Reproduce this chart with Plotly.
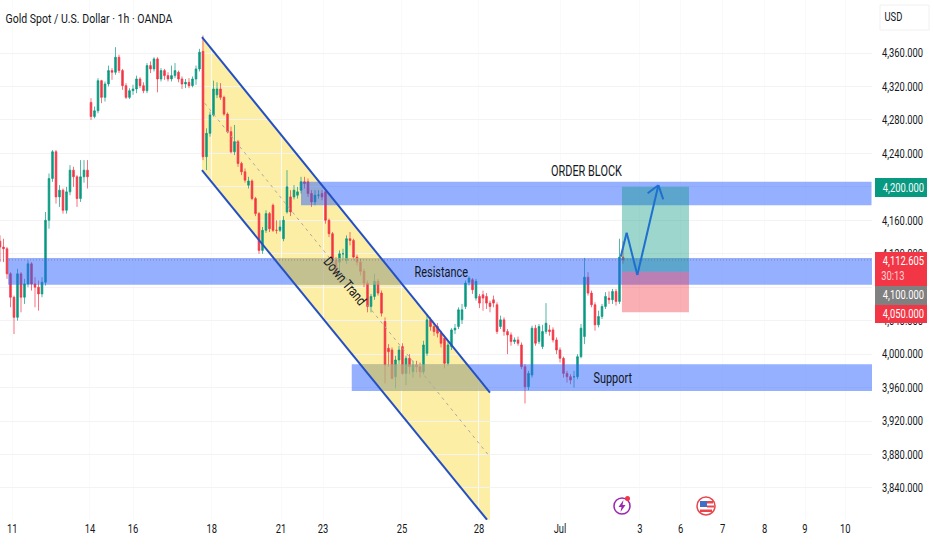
import plotly.graph_objects as go

# hourly gold candles (one candle every 2 bars)
opens = [4135,4128,4126,4096,4068,4044,4096,4068,4084,4108,4084,4080,4072,4086,4160,4210,4242,4188,4196,4172,4194,4220,4212,4186,4212,4220,
         4301,4284,4291,4327,4307,4323,4339,4337,4355,4339,4321,4307,4315,4317,4329,4321,4315,4345,4341,4353,4329,4339,4333,4329,4333,4337,4329,4323,4325,4321,4329,4341,4362,
         4236,4264,4286,4310,4317,4307,4287,4266,4242,4254,4228,4218,4202,4207,4186,4168,4124,4148,4168,4178,4148,4148,4138,
         4170,4188,4188,4190,4196,4206,4206,4192,4182,4190,4192,4194,4160,4144,4112,4110,4120,4112,4138,4136,4116,4110,4099,4085,4057,4069,4087,4073,
         4039,4007,4005,3973,3993,4009,3977,3995,3979,3987,3985,3979,4001,4041,4033,4033,4025,4019,3989,4009,4029,4033,4041,4057,4086,4089,4067,4069,4071,4069,4061,4065,4059,4033,4041,4027,
         4023,4015,4017,4011,3985,3961,3975,4031,4015,4009,4027,4029,4029,4017,4005,3995,3977,3973,3973,3973,3997,4021,4092,4073,4059,4035,4045,4057,4067,4065,4075,4063,4116]
closes = [4128,4126,4096,4068,4044,4096,4068,4084,4108,4084,4080,4072,4086,4160,4210,4242,4188,4196,4172,4194,4220,4212,4186,4212,4220,4212,
          4284,4291,4327,4307,4323,4339,4337,4355,4339,4321,4307,4315,4317,4329,4321,4315,4345,4341,4353,4329,4339,4333,4329,4333,4339,4329,4323,4325,4321,4329,4341,4361,4236,
          4264,4286,4317,4317,4307,4287,4266,4242,4254,4228,4218,4208,4207,4186,4168,4124,4148,4168,4150,4148,4148,4152,4160,
          4200,4170,4196,4194,4206,4204,4192,4182,4190,4190,4188,4160,4144,4112,4099,4120,4120,4138,4136,4116,4110,4099,4085,4057,4069,4087,4073,4049,
          3987,4003,3971,3993,4005,3977,3995,3985,3987,3985,3979,4011,4041,4033,4027,4025,4013,3989,4011,4029,4031,4053,4053,4085,4091,4077,4087,4061,4067,4061,4057,4061,4027,4041,4027,4023,
          4015,4017,4013,3985,3961,3977,4031,4013,4033,4027,4037,4027,4017,4005,3995,3977,3973,3969,3973,3997,4031,4092,4073,4059,4035,4045,4057,4069,4065,4075,4063,4116,4112.605]
highs = [4142,4138,4128,4098,4070,4102,4098,4090,4112,4110,4092,4088,4092,4170,4216,4244,4244,4202,4198,4200,4226,4224,4214,4232,4232,4232,
         4306,4296,4330,4328,4326,4345,4342,4367,4358,4341,4324,4318,4322,4333,4331,4325,4348,4350,4355,4355,4342,4341,4337,4345,4348,4339,4332,4329,4330,4332,4345,4365,4381,
         4270,4290,4327,4325,4324,4309,4289,4272,4274,4256,4230,4222,4212,4209,4188,4170,4152,4172,4170,4180,4160,4160,4165,
         4220,4196,4202,4200,4212,4212,4210,4196,4196,4196,4196,4198,4162,4146,4116,4124,4126,4142,4146,4138,4119,4114,4102,4088,4072,4096,4090,4076,
         4044,4012,4008,3998,4010,4013,3998,4000,3992,3992,3990,4016,4048,4044,4036,4037,4028,4022,4015,4031,4036,4056,4060,4088,4093,4091,4090,4072,4076,4073,4064,4070,4062,4046,4044,4030,
         4026,4020,4021,4014,3988,3980,4034,4035,4036,4035,4061,4035,4032,4020,4008,3997,3980,3976,3980,4000,4036,4115,4098,4076,4062,4052,4060,4074,4075,4078,4078,4138,4135]
lows = [4110,4110,4090,4056,4024,4040,4050,4060,4080,4076,4056,4052,4068,4082,4150,4206,4180,4176,4168,4168,4190,4200,4176,4182,4205,4198,
        4280,4282,4288,4300,4302,4320,4328,4334,4336,4316,4305,4305,4310,4312,4318,4312,4312,4336,4338,4313,4326,4328,4326,4326,4330,4325,4317,4318,4318,4319,4322,4338,4232,
        4220,4260,4284,4306,4304,4285,4264,4240,4238,4224,4214,4205,4198,4184,4165,4120,4120,4145,4146,4146,4144,4146,4135,
        4168,4165,4185,4186,4192,4198,4188,4176,4178,4186,4184,4156,4140,4108,4095,4096,4112,4108,4130,4112,4106,4094,4080,4050,4050,4065,4070,4045,
        3965,3985,3970,3959,3988,3975,3963,3976,3972,3978,3972,3976,3998,4028,4022,4020,4008,3983,3986,4005,4024,4030,4036,4054,4082,4072,4064,4055,4052,4054,4050,4056,4024,4030,4022,4000,
        4010,4012,4010,3982,3941,3957,3972,4010,4012,4006,4024,4022,4014,4000,3990,3972,3966,3964,3960,3970,3995,4012,4070,4056,4028,4032,4042,4054,4060,4060,4058,4060,4108]
bar_x = [n * 2 for n in range(len(closes))]

y_ticks = [3840, 3880, 3920, 3960, 4000, 4040, 4080, 4120, 4160, 4200, 4240, 4280, 4320, 4360]
# 4,200 and 4,080 sit behind the coloured price labels
y_labels = ["3,840.000", "3,880.000", "3,920.000", "3,960.000", "4,000.000", "4,040.000", "", "4,120.000",
            "4,160.000", "", "4,240.000", "4,280.000", "4,320.000", "4,360.000"]
date_ticks = [7, 51.4, 76, 121, 160.6, 184.6, 229.7, 273.7, 320, 365.7, 389, 413, 437, 460, 483]
date_labels = ["11", "14", "16", "18", "21", "23", "25", "28", "Jul", "3", "6", "7", "8", "9", "10"]

PLOT_W, PLOT_H = 872, 520
FONT = "Roboto"
INK = "#131722"
BLUE_BAND = "rgba(41,98,255,0.5)"
YELLOW = "rgba(255,224,60,0.45)"
LINE_BLUE = "#2450c4"

# the screenshot is squeezed sideways, so the text gets narrowed to match
SQUEEZE_TEXT = """
document.body.style.margin = '0';
setTimeout(function () {
  document.querySelectorAll('.plotly-graph-div svg text').forEach(function (t) {
    var n = t.getComputedTextLength();
    if (n > 0) {
      t.setAttribute('textLength', n * 0.78);
      t.setAttribute('lengthAdjust', 'spacingAndGlyphs');
    }
  });
}, 30);
"""


def px(x):
    return x / PLOT_W


def py(y):
    return 1 - y / PLOT_H


def poly(points):
    return "M " + " L ".join(f"{a} {b}" for a, b in points) + " Z"


def band(x0, x1, y0, y1):
    return dict(type="rect", x0=x0, x1=x1, y0=y0, y1=y1, xref="x", yref="y",
                fillcolor=BLUE_BAND, line_width=0, layer="above")


def seg(x0, y0, x1, y1, color=LINE_BLUE, width=2, dash="solid"):
    return dict(type="line", x0=x0, y0=y0, x1=x1, y1=y1, xref="x", yref="y",
                line=dict(color=color, width=width, dash=dash), layer="above")


def box(x0, y0, x1, y1, fill, line="rgba(0,0,0,0)", width=0):
    return dict(type="rect", x0=px(x0), x1=px(x1), y0=py(y1), y1=py(y0), xref="paper", yref="paper",
                fillcolor=fill, line=dict(color=line, width=width), layer="above")


fig = go.Figure(go.Candlestick(
    x=bar_x, open=opens, high=highs, low=lows, close=closes,
    increasing=dict(line=dict(color="#089981", width=0.7), fillcolor="#089981"),
    decreasing=dict(line=dict(color="#f23645", width=0.7), fillcolor="#f23645"),
    whiskerwidth=0, showlegend=False, hoverinfo="skip",
))

shapes = [
    # falling channel fill
    dict(type="path", path=poly([(115.4, 4379), (280, 3954), (280, 3802), (278.3, 3802), (115.4, 4220)]),
         xref="x", yref="y", fillcolor="#fdeea6", line_width=0, layer="below"),
    # zones
    band(4.6, 500, 4083, 4115),
    band(201, 500, 3956, 3988),
    band(172, 498, 4178, 4206),
    # yellow sits on top of these two zones in the reference
    dict(type="path", path=poly([(156.3, 4115), (217.6, 4115), (229.8, 4083), (168.8, 4083)]),
         xref="x", yref="y", fillcolor=YELLOW, line_width=0, layer="above"),
    dict(type="path", path=poly([(205.8, 3988), (266.8, 3988), (279.2, 3956), (218.3, 3956)]),
         xref="x", yref="y", fillcolor=YELLOW, line_width=0, layer="above"),
    # channel lines
    seg(115.4, 4379, 280, 3954),
    seg(115.4, 4220, 278.3, 3802),
    seg(117, 4300, 280, 3877, color="#a8a8a8", width=1, dash="3px,4px"),
    # position box
    dict(type="rect", x0=355.4, x1=393.7, y0=4098.5, y1=4200, xref="x", yref="y",
         fillcolor="rgba(8,153,129,0.4)", line_width=0, layer="above"),
    dict(type="rect", x0=355.4, x1=393.7, y0=4050, y1=4098.5, xref="x", yref="y",
         fillcolor="rgba(242,54,69,0.4)", line_width=0, layer="above"),
    # last price line
    seg(0, 4112.6, 498, 4112.6, color="rgba(120,90,110,0.55)", width=1, dash="1px,2px"),
    # hand drawn path with arrow head
    seg(354.7, 4116.5, 358.1, 4145, color="#1e6fd0"),
    seg(358.1, 4145, 364.2, 4094.6, color="#1e6fd0"),
    seg(364.2, 4094.6, 376.2, 4202, color="#1e6fd0"),
    seg(370.1, 4192.3, 376.2, 4202, color="#1e6fd0"),
    seg(376.2, 4202, 379, 4185, color="#1e6fd0"),
    # price scale labels
    box(875, 178, 927, 197, "#089981"),
    box(875, 252, 927, 286, "#f23645"),
    box(875, 286, 927, 305, "#808080"),
    box(875, 305, 927, 323, "#f23645"),
    box(880, 5, 929, 30, "#ffffff", line="#f0f0f0", width=1),
    # event icons
    dict(type="circle", x0=px(614), x1=px(630), y0=py(514), y1=py(498), xref="paper", yref="paper",
         line=dict(color="#9c27b0", width=1.5), fillcolor="#ffffff", layer="above"),
    dict(type="path", path=poly([(px(623.5), py(500)), (px(618.5), py(507)), (px(621.5), py(507)),
                                 (px(620.5), py(512)), (px(625.5), py(505)), (px(622.5), py(505))]),
         xref="paper", yref="paper", fillcolor="#9c27b0", line_width=0, layer="above"),
    dict(type="circle", x0=px(625), x1=px(630), y0=py(501), y1=py(496), xref="paper", yref="paper",
         fillcolor="#f23645", line_width=0, layer="above"),
    dict(type="circle", x0=px(697), x1=px(715), y0=py(515), y1=py(497), xref="paper", yref="paper",
         line=dict(color="#e8474c", width=1.5), fillcolor="#ffffff", layer="above"),
    box(700, 501, 707, 507, "#3f6fc9"),
    box(707, 501, 713, 503.5, "#e8474c"),
    box(707, 505.5, 714, 507.5, "#e8474c"),
    box(700, 509.5, 712, 512, "#e8474c"),
]


def label(x, y, text, size=12, color=INK, anchor="center", angle=0):
    return dict(x=px(x), y=py(y), xref="paper", yref="paper", text=text, showarrow=False,
                xanchor=anchor, yanchor="middle", textangle=angle,
                font=dict(family=FONT, size=size, color=color))


notes = [
    label(89, 18, "Gold Spot / U.S. Dollar · 1h · OANDA", size=13.5),
    label(586, 171, "ORDER BLOCK", size=14),
    label(441, 272, "Resistance", size=14),
    label(613, 378, "Support", size=14),
    label(345, 281, "Down Trand", size=14, angle=50),
    label(893, 17, "USD", size=12),
    label(903, 187.5, "4,200.000", size=12, color="#ffffff"),
    label(903, 261, "4,112.605", size=12, color="#ffffff"),
    label(893, 276, "30:13", size=12, color="#ffd0d4"),
    label(903, 295, "4,100.000", size=12, color="#ffffff"),
    label(903, 314, "4,050.000", size=12, color="#ffffff"),
]

fig.update_layout(
    width=932, height=550,
    margin=dict(l=0, r=60, t=0, b=30),
    paper_bgcolor="#ffffff", plot_bgcolor="#ffffff",
    font=dict(family=FONT, size=12, color=INK),
    showlegend=False,
    shapes=shapes,
    annotations=notes,
)
fig.update_xaxes(range=[0, PLOT_W / 1.75], rangeslider_visible=False, tickvals=date_ticks, ticktext=date_labels,
                 gridcolor="#fafafa", zeroline=False, showline=False, ticks="", tickfont=dict(size=12), automargin=False)
fig.update_yaxes(range=[3801.7, 4423.4], side="right", tickvals=y_ticks, ticktext=y_labels, ticklabelstandoff=9,
                 gridcolor="#f3f3f3", zeroline=False, showline=False, ticks="", tickfont=dict(size=12), automargin=False)

fig.write_html("out.html", config=dict(displayModeBar=False), post_script=SQUEEZE_TEXT)
